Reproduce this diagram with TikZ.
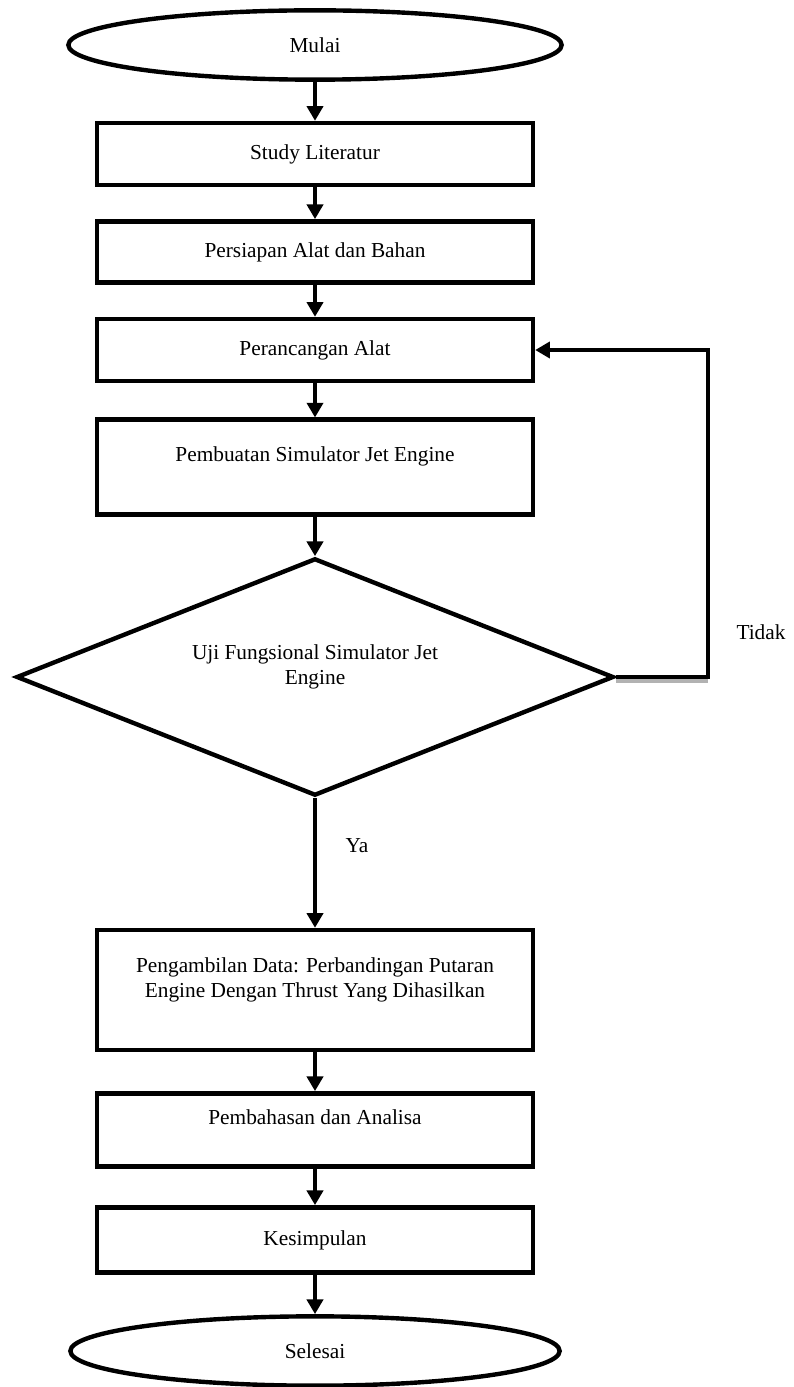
\documentclass[tikz,border=0pt]{standalone}
\usepackage{fontspec}
\setmainfont{Liberation Serif}
\usepackage{tikz}
\usetikzlibrary{shapes.geometric,arrows.meta}

\begin{document}
\begin{tikzpicture}[x=0.75pt,y=-0.75pt,font=\fontsize{16}{18.75}\selectfont,
  kotak/.style={draw,line width=3.3pt,rectangle,minimum width=327pt,inner sep=0pt,align=center},
  terminal/.style={draw,line width=3.3pt,ellipse,minimum height=52pt,inner sep=0pt},
  keputusan/.style={draw,line width=3.3pt,diamond,aspect=2.52,minimum width=448pt,minimum height=178pt,inner sep=0pt,align=center},
  panah/.style={line width=3.3pt,-{Triangle[length=11pt,width=12pt]}}]
\useasboundingbox (0,0) rectangle (793,1387);
  % langkah-langkah
  \node[terminal,minimum width=370pt] (mulai) at (315,45) {Mulai};
  \node[kotak,minimum height=46.5pt] (study) at (315,154) {Study Literatur};
  \node[kotak,minimum height=46pt] (persiapan) at (315,252) {Persiapan Alat dan Bahan};
  \node[kotak,minimum height=46.5pt] (perancangan) at (315,350) {Perancangan Alat};
  \node[kotak,minimum height=71pt] (pembuatan) at (315,467) {Pembuatan Simulator Jet Engine\\\mbox{}};
  \node[keputusan] (uji) at (315,677) {Uji Fungsional Simulator Jet\\Engine\\\mbox{}};
  \node[kotak,minimum height=90pt] (pengambilan) at (315,990)
    {Pengambilan Data: Perbandingan Putaran\\Engine Dengan Thrust Yang Dihasilkan\\\mbox{}};
  \node[kotak,minimum height=55pt] (pembahasan) at (315,1130) {Pembahasan dan Analisa\\\mbox{}};
  \node[kotak,minimum height=49pt] (kesimpulan) at (315,1240) {Kesimpulan};
  \node[terminal,minimum width=367pt] (selesai) at (315,1351) {Selesai};
  \coordinate (belok) at (708,677);
  \node (tidak) at (761,632) {Tidak};
  \node (ya) at (357,846) {Ya};
  % panah
  \draw[panah] (mulai) -- (study);
  \draw[panah] (study) -- (persiapan);
  \draw[panah] (persiapan) -- (perancangan);
  \draw[panah] (perancangan) -- (pembuatan);
  \draw[panah] (pembuatan) -- (uji);
  \draw[panah] (uji) -- (pengambilan);
  \draw[panah] (pengambilan) -- (pembahasan);
  \draw[panah] (pembahasan) -- (kesimpulan);
  \draw[panah] (kesimpulan) -- (selesai);
  \draw[gray!60,line width=2.5pt] ([yshift=-3pt]uji.east) -- ([yshift=-3pt]belok);
  \draw[panah] (uji.east) -- (belok) |- (perancangan.east);
\end{tikzpicture}
\end{document}
